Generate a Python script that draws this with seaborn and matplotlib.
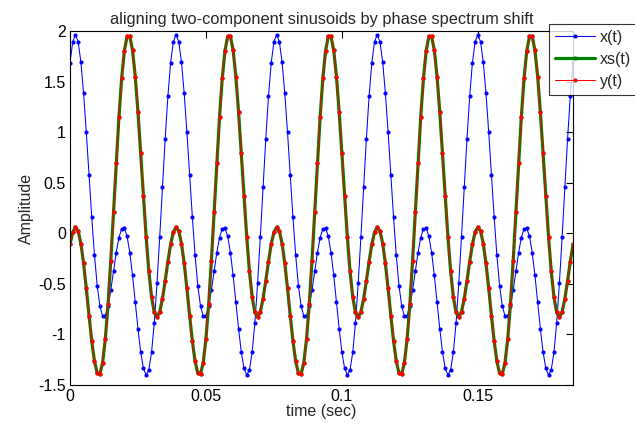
import numpy as np
import pandas as pd
import matplotlib
matplotlib.use("Agg")
import matplotlib.pyplot as plt
import seaborn as sns

fs = 1000
n_samples = 186
t = np.arange(n_samples) / fs

x_vals = [
    1.684, 1.893,
    1.964, 1.894, 1.693, 1.383, 0.998, 0.576, 0.159, -0.216, -0.517, -0.720, -0.818, -0.813, -0.719, -0.563, -0.375, -0.191, -0.042, 0.045, 0.051, -0.030, -0.191, -0.417, -0.679, -0.943, -1.174, -1.336, -1.401, -1.350, -1.176, -0.883, -0.493, -0.034, 0.455, 0.932, 1.354, 1.684, 1.893,
    1.964, 1.894, 1.693, 1.383, 0.998, 0.576, 0.159, -0.216, -0.517, -0.720, -0.818, -0.813, -0.719, -0.563, -0.375, -0.191, -0.042, 0.045, 0.051, -0.030, -0.191, -0.417, -0.679, -0.943, -1.174, -1.336, -1.401, -1.350, -1.176, -0.883, -0.493, -0.034, 0.455, 0.932, 1.354, 1.684, 1.893,
    1.964, 1.894, 1.693, 1.383, 0.998, 0.576, 0.159, -0.216, -0.517, -0.720, -0.818, -0.813, -0.719, -0.563, -0.375, -0.191, -0.042, 0.045, 0.051, -0.030, -0.191, -0.417, -0.679, -0.943, -1.174, -1.336, -1.401, -1.350, -1.176, -0.883, -0.493, -0.034, 0.455, 0.932, 1.354, 1.684, 1.893,
    1.964, 1.894, 1.693, 1.383, 0.998, 0.576, 0.159, -0.216, -0.517, -0.720, -0.818, -0.813, -0.719, -0.563, -0.375, -0.191, -0.042, 0.045, 0.051, -0.030, -0.191, -0.417, -0.679, -0.943, -1.174, -1.336, -1.401, -1.350, -1.176, -0.883, -0.493, -0.034, 0.455, 0.932, 1.354, 1.684, 1.893,
    1.964, 1.894, 1.693, 1.383, 0.998, 0.576, 0.159, -0.216, -0.517, -0.720, -0.818, -0.813, -0.719, -0.563, -0.375, -0.191, -0.042, 0.045, 0.051, -0.030, -0.191, -0.417, -0.679, -0.943, -1.174, -1.336, -1.401, -1.350, -1.176, -0.883, -0.493, -0.034, 0.455, 0.932, 1.354, 1.684,
]

y_vals = [
    -0.110, 0.011, 0.059, 0.022, -0.101, -0.298, -0.545, -0.813, -1.065, -1.265, -1.383, -1.391, -1.278, -1.044, -0.699, -0.270, 0.210, 0.698, 1.152, 1.533, 1.805, 1.946,
    1.946, 1.809, 1.550, 1.198, 0.789, 0.364, -0.036, -0.377, -0.631, -0.783, -0.828, -0.776, -0.647, -0.471, -0.280, -0.110, 0.011, 0.059, 0.022, -0.101, -0.298, -0.545, -0.813, -1.065, -1.265, -1.383, -1.391, -1.278, -1.044, -0.699, -0.270, 0.210, 0.698, 1.152, 1.533, 1.805, 1.946,
    1.946, 1.809, 1.550, 1.198, 0.789, 0.364, -0.036, -0.377, -0.631, -0.783, -0.828, -0.776, -0.647, -0.471, -0.280, -0.110, 0.011, 0.059, 0.022, -0.101, -0.298, -0.545, -0.813, -1.065, -1.265, -1.383, -1.391, -1.278, -1.044, -0.699, -0.270, 0.210, 0.698, 1.152, 1.533, 1.805, 1.946,
    1.946, 1.809, 1.550, 1.198, 0.789, 0.364, -0.036, -0.377, -0.631, -0.783, -0.828, -0.776, -0.647, -0.471, -0.280, -0.110, 0.011, 0.059, 0.022, -0.101, -0.298, -0.545, -0.813, -1.065, -1.265, -1.383, -1.391, -1.278, -1.044, -0.699, -0.270, 0.210, 0.698, 1.152, 1.533, 1.805, 1.946,
    1.946, 1.809, 1.550, 1.198, 0.789, 0.364, -0.036, -0.377, -0.631, -0.783, -0.828, -0.776, -0.647, -0.471, -0.280, -0.110, 0.011, 0.059, 0.022, -0.101, -0.298, -0.545, -0.813, -1.065, -1.265, -1.383, -1.391, -1.278, -1.044, -0.699, -0.270, 0.210, 0.698, 1.152, 1.533, 1.805, 1.946,
    1.946, 1.809, 1.550, 1.198, 0.789, 0.364, -0.036, -0.377, -0.631, -0.783, -0.828, -0.776, -0.647, -0.471, -0.280, -0.110,
]

# xs(t) (phase-shifted x) lies exactly on y(t) in the chart
xs_vals = list(y_vals)

series_labels = ["x(t)", "xs(t)", "y(t)"]
x_ticks = [0, 0.05, 0.1, 0.15]
x_tick_labels = ["0", "0.05", "0.1", "0.15"]
y_ticks = [-1.5, -1, -0.5, 0, 0.5, 1, 1.5, 2]
y_tick_labels = ["-1.5", "-1", "-0.5", "0", "0.5", "1", "1.5", "2"]

# ---- style ----
sns.set_theme(style="white")
plt.rcParams["font.family"] = ["Liberation Sans", "DejaVu Sans"]
plt.rcParams["font.size"] = 11

W, H = 635, 430
fig = plt.figure(figsize=(W / 100, H / 100), dpi=100)
ax = fig.add_axes([70 / W, 1 - 385 / H, (573 - 70) / W, (385 - 31) / H])

df = pd.DataFrame({"t": t, "x": x_vals, "xs": xs_vals, "y": y_vals})

sns.lineplot(data=df, x="t", y="x", ax=ax, color=(0, 0, 1), lw=0.75,
             marker=".", markersize=6, markeredgewidth=0, label=series_labels[0],
             estimator=None, sort=False)
sns.lineplot(data=df, x="t", y="xs", ax=ax, color=(0, 0.5, 0), lw=2.3,
             marker=".", markersize=6, markeredgewidth=0, label=series_labels[1],
             estimator=None, sort=False)
sns.lineplot(data=df, x="t", y="y", ax=ax, color=(1, 0, 0), lw=0.75,
             marker=".", markersize=6, markeredgewidth=0, label=series_labels[2],
             estimator=None, sort=False)

ax.set_xlim(0, 0.185)
ax.set_ylim(-1.5, 2)
ax.set_xticks(x_ticks)
ax.set_xticklabels(x_tick_labels)
ax.set_yticks(y_ticks)
ax.set_yticklabels(y_tick_labels)
ax.tick_params(direction="in", length=5, width=0.8, top=True, right=True,
               labelsize=11.5, colors="black", pad=3)
for sp in ax.spines.values():
    sp.set_visible(True)
    sp.set_color("black")
    sp.set_linewidth(0.8)

ax.set_xlabel("time (sec)", fontsize=11.5, labelpad=0)
ax.set_ylabel("Amplitude", fontsize=11.5, labelpad=3)
ax.set_title("aligning two-component sinusoids by phase spectrum shift",
             fontsize=11.8, pad=5)

leg = ax.legend(loc="upper left", bbox_to_anchor=(549 / W, 1 - 24 / H),
                bbox_transform=fig.transFigure, frameon=True, fancybox=False,
                fontsize=11.5, handlelength=2.5, handletextpad=0.35,
                borderpad=0.35, labelspacing=0.45, borderaxespad=0)
leg.get_frame().set_edgecolor("black")
leg.get_frame().set_linewidth(0.8)

fig.savefig("out.png", dpi=100, facecolor="white")
